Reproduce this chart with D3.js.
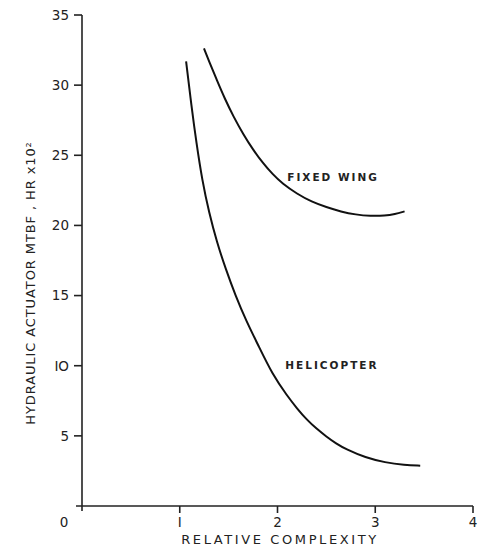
<!DOCTYPE html>
<html>
<head>
<meta charset="utf-8">
<script src="https://d3js.org/d3.v7.min.js"></script>
<style>
  body { margin: 0; background: #fff; }
  text { font-family: "DejaVu Sans", sans-serif; fill: #222; }
</style>
</head>
<body>
<div id="chart"></div>
<script>
// values
const xTicks = [0, 1, 2, 3, 4];
const yTicks = [5, 10, 15, 20, 25, 30, 35];

const heliX = [1.065, 1.12, 1.17, 1.23, 1.30, 1.38, 1.47, 1.57, 1.68, 1.80, 1.95, 2.10, 2.20, 2.30, 2.40, 2.50, 2.60, 2.70, 2.90, 3.10, 3.30, 3.46];
const heliY = [31.7, 28.5, 25.9, 23.2, 20.9, 18.8, 16.9, 15.0, 13.2, 11.5, 9.35, 7.85, 6.95, 6.15, 5.5, 4.95, 4.45, 4.05, 3.45, 3.1, 2.92, 2.87];

const fixedX = [1.248, 1.30, 1.38, 1.46, 1.55, 1.65, 1.75, 1.85, 1.95, 2.05, 2.20, 2.35, 2.50, 2.65, 2.80, 2.95, 3.10, 3.20, 3.30];
const fixedY = [32.62, 31.7, 30.35, 29.05, 27.75, 26.5, 25.4, 24.45, 23.65, 22.98, 22.25, 21.68, 21.3, 20.98, 20.77, 20.67, 20.69, 20.8, 21.0];

const width = 481, height = 549;

const svg = d3.select("#chart").append("svg")
  .attr("width", width)
  .attr("height", height);

const x = d3.scaleLinear().domain([0, 4]).range([82, 473]);
const y = d3.scaleLinear().domain([0, 35]).range([506, 15]);

// axes drawn by hand to mimic the plotted figure
const ax = svg.append("g").attr("stroke", "#222").attr("stroke-width", 1.6);
ax.append("line").attr("x1", x(0)).attr("x2", x(0)).attr("y1", y(35)).attr("y2", y(0) + 5);
ax.append("line").attr("x1", x(0) - 6).attr("x2", x(4)).attr("y1", y(0)).attr("y2", y(0));

ax.selectAll(".yt").data(yTicks).join("line")
  .attr("x1", x(0) - 8).attr("x2", x(0))
  .attr("y1", d => y(d)).attr("y2", d => y(d));

ax.selectAll(".xt").data(xTicks.slice(1)).join("line")
  .attr("x1", d => x(d)).attr("x2", d => x(d))
  .attr("y1", y(0)).attr("y2", y(0) + 7);

svg.append("g").selectAll("text").data(yTicks).join("text")
  .attr("x", x(0) - 13).attr("y", d => y(d))
  .attr("dy", "0.36em")
  .attr("text-anchor", "end")
  .style("font-size", "13.5px")
  .text(d => d === 10 ? "IO" : d);

svg.append("g").selectAll("text").data(xTicks).join("text")
  .attr("x", d => d === 0 ? x(0) - 18 : x(d))
  .attr("y", y(0) + 21)
  .attr("text-anchor", "middle")
  .style("font-size", "13.5px")
  .text(d => d === 1 ? "I" : d);

svg.append("text")
  .attr("x", 280).attr("y", 544)
  .attr("text-anchor", "middle")
  .style("font-size", "13px")
  .style("letter-spacing", "2.6px")
  .text("RELATIVE COMPLEXITY");

svg.append("text")
  .attr("transform", "translate(35,283) rotate(-90)")
  .attr("text-anchor", "middle")
  .style("font-size", "13px")
  .style("letter-spacing", "0.9px")
  .text("HYDRAULIC ACTUATOR MTBF , HR x10²");

// curves
const line = d3.line()
  .x(d => x(d[0]))
  .y(d => y(d[1]))
  .curve(d3.curveBasis);

const series = [
  { name: "HELICOPTER", pts: d3.zip(heliX, heliY), lx: 2.08, ly: 9.8 },
  { name: "FIXED WING", pts: d3.zip(fixedX, fixedY), lx: 2.1, ly: 23.2 }
];

svg.append("g").selectAll("path").data(series).join("path")
  .attr("d", d => line(d.pts))
  .attr("fill", "none")
  .attr("stroke", "#111")
  .attr("stroke-width", 2);

svg.append("g").selectAll("text").data(series).join("text")
  .attr("x", d => x(d.lx)).attr("y", d => y(d.ly))
  .style("font-size", "10.5px")
  .style("font-weight", "bold")
  .style("letter-spacing", "2px")
  .text(d => d.name);
</script>
</body>
</html>
